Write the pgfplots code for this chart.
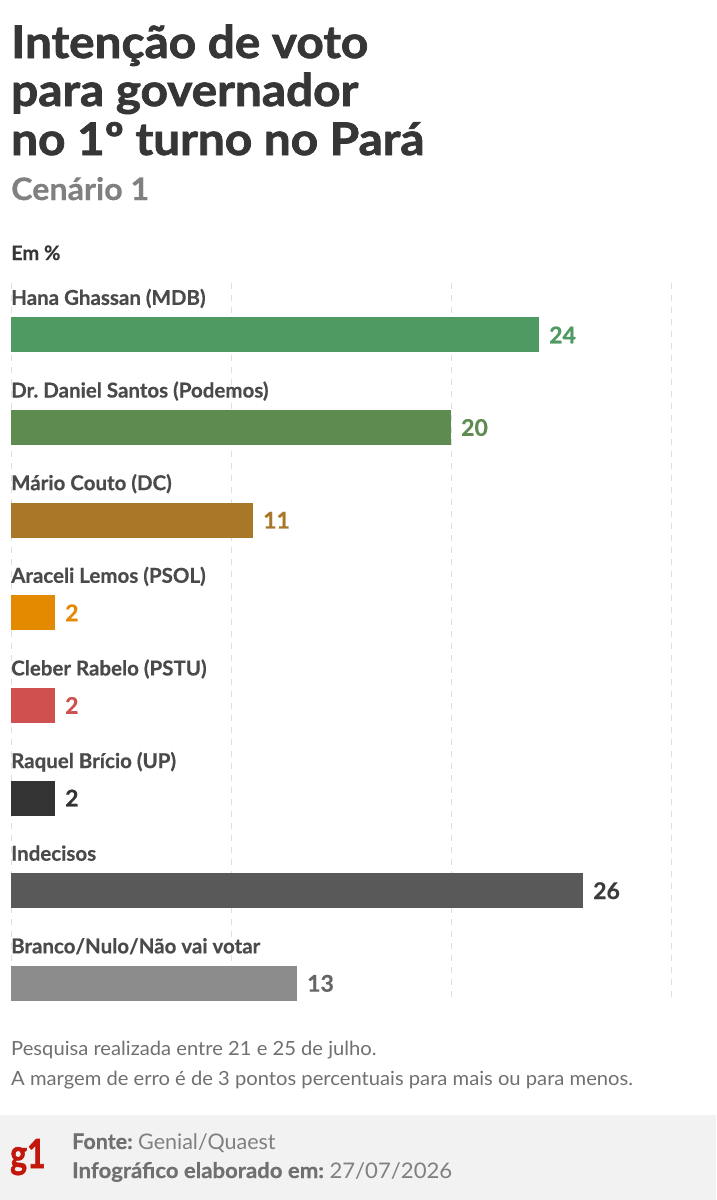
\documentclass[border=0pt]{standalone}
\usepackage{fontspec}
\setmainfont{Lato}
\newfontfamily\heavy{Lato}[BoldFeatures={FakeBold=1.6}]
\newfontfamily\semi{Lato}[BoldFeatures={FakeBold=0.5}]
\usepackage{pgfplots}
\pgfplotsset{compat=1.18}
\definecolor{titlec}{HTML}{363636}
\definecolor{subc}{HTML}{808080}
\definecolor{labc}{HTML}{4A4A4A}
\definecolor{cA}{HTML}{4E9A62}
\definecolor{cB}{HTML}{5E8C50}
\definecolor{cC}{HTML}{A87828}
\definecolor{cD}{HTML}{E48A00}
\definecolor{cE}{HTML}{D05050}
\definecolor{cF}{HTML}{333333}
\definecolor{cG}{HTML}{595959}
\definecolor{cH}{HTML}{8C8C8C}
\definecolor{vG}{HTML}{3C3C3C}
\definecolor{vH}{HTML}{666666}
\definecolor{footc}{HTML}{707070}
\definecolor{bandc}{HTML}{F2F2F2}
\definecolor{g1red}{HTML}{C4170C}
\begin{document}
\frenchspacing
\begin{tikzpicture}[x=1pt,y=1pt]
\fill[white] (0,0) rectangle (716,-1200);
\fill[bandc] (0,-1115) rectangle (716,-1200);
\node[anchor=base west,inner sep=0,font=\fontsize{45}{48}\heavy\bfseries,text=titlec] at (11,-58) {\scalebox{1.06}[1]{Intenção de voto}};
\node[anchor=base west,inner sep=0,font=\fontsize{45}{48}\heavy\bfseries,text=titlec] at (11,-106) {\scalebox{1.06}[1]{para governador}};
\node[anchor=base west,inner sep=0,font=\fontsize{45}{48}\heavy\bfseries,text=titlec] at (11,-155) {\scalebox{1.06}[1]{no 1º turno no Pará}};
\node[anchor=base west,inner sep=0,font=\fontsize{31}{34}\semi\bfseries,text=subc] at (11,-200) {\scalebox{1.04}[1]{Cenário 1}};
\node[anchor=base west,inner sep=0,font=\fontsize{20}{24}\semi\bfseries,text=titlec] at (11,-260) {Em \%};
\begin{axis}[
  at={(11pt,-283pt)}, anchor=north west,
  scale only axis, width=660pt, height=717pt,
  xmin=0, xmax=30, ymin=-0.56, ymax=7.18,
  y dir=reverse,
  xbar, bar width=35pt,
  xtick={0,10,20,30}, xticklabels={},
  xmajorgrids, grid style={draw=black!13, line width=0.8pt, dash pattern=on 6pt off 6pt},
  axis line style={draw=none}, tick style={draw=none}, major tick length=0pt,
  ytick={0,1,2,3,4,5,6,7},
  yticklabels={Hana Ghassan (MDB), Dr.\ Daniel Santos (Podemos), Mário Couto (DC), Araceli Lemos (PSOL), Cleber Rabelo (PSTU), Raquel Brício (UP), Indecisos, Branco/Nulo/Não vai votar},
  yticklabel style={anchor=base west, inner sep=0pt, yshift=30pt, font=\fontsize{20.5}{24}\semi\bfseries, text=labc},
  /pgf/number format/assume math mode=true,
  nodes near coords,
  every node near coord/.append style={font=\fontsize{23}{28}\semi\bfseries, inner sep=0pt, xshift=10pt, anchor=west},
  clip=false,
]
\addplot[fill=cA, draw=none, bar shift=0pt, nodes near coords style={text=cA}] coordinates {(24,0)};
\addplot[fill=cB, draw=none, bar shift=0pt, nodes near coords style={text=cB}] coordinates {(20,1)};
\addplot[fill=cC, draw=none, bar shift=0pt, nodes near coords style={text=cC}] coordinates {(11,2)};
\addplot[fill=cD, draw=none, bar shift=0pt, nodes near coords style={text=cD}] coordinates {(2,3)};
\addplot[fill=cE, draw=none, bar shift=0pt, nodes near coords style={text=cE}] coordinates {(2,4)};
\addplot[fill=cF, draw=none, bar shift=0pt, nodes near coords style={text=cF}] coordinates {(2,5)};
\addplot[fill=cG, draw=none, bar shift=0pt, nodes near coords style={text=vG}] coordinates {(26,6)};
\addplot[fill=cH, draw=none, bar shift=0pt, nodes near coords style={text=vH}] coordinates {(13,7)};
\end{axis}
\node[anchor=base west,inner sep=0,font=\fontsize{19.5}{22}\selectfont,text=footc] at (11,-1055) {\scalebox{1.035}[1]{Pesquisa realizada entre 21 e 25 de julho.}};
\node[anchor=base west,inner sep=0,font=\fontsize{19.5}{22}\selectfont,text=footc] at (11,-1085) {\scalebox{1.035}[1]{A margem de erro é de 3 pontos percentuais para mais ou para menos.}};
\node[anchor=base west,inner sep=0,font=\fontsize{40}{44}\heavy\bfseries,text=g1red] at (10,-1168) {\scalebox{0.8}[1]{g1}};
\node[anchor=base west,inner sep=0,font=\fontsize{21.5}{24}\selectfont,text=subc] at (72,-1149) {{\semi\bfseries\color{footc}Fonte:} Genial/Quaest};
\node[anchor=base west,inner sep=0,font=\fontsize{21.5}{24}\selectfont,text=subc] at (72,-1178) {\scalebox{1.03}[1]{{\semi\bfseries\color{footc}Infográfico elaborado em:} 27/07/2026}};
\end{tikzpicture}
\end{document}
